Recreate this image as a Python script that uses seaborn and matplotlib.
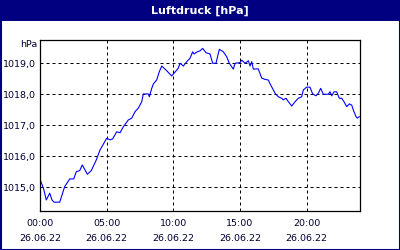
import matplotlib
matplotlib.use("Agg")
import matplotlib.pyplot as plt
from matplotlib.patches import Rectangle
from matplotlib.ticker import FixedLocator, MultipleLocator, FuncFormatter
import seaborn as sns
import pandas as pd

title = "Luftdruck [hPa]"
unit = "hPa"
date_label = "26.06.22"

hours = [0.00, 0.28, 0.47, 0.73, 0.90, 1.05, 1.48, 1.85, 2.23, 2.53, 2.72, 2.98, 3.17, 3.55,
         3.85, 4.22, 4.50, 5.00, 5.25, 5.45, 5.75, 6.00, 6.25, 6.62, 6.88, 7.13, 7.37, 7.63,
         7.75, 8.12, 8.20, 8.38, 8.50, 8.75, 8.95, 9.13, 9.50, 9.88, 10.37, 10.50, 10.75,
         11.00, 11.25, 11.45, 11.55, 11.80, 12.00, 12.20, 12.45, 12.75, 12.95, 13.20, 13.45,
         13.75, 14.00, 14.20, 14.50, 14.63, 15.00, 15.13, 15.38, 15.63, 15.75, 15.88, 16.00,
         16.37, 16.63, 16.88, 17.12, 17.30, 17.50, 17.63, 17.87, 18.13, 18.25, 18.45, 18.63,
         18.88, 19.13, 19.37, 19.63, 19.75, 20.00, 20.25, 20.45, 20.70, 20.87, 21.05, 21.25,
         21.62, 21.75, 21.88, 22.05, 22.25, 22.45, 22.63, 22.80, 23.00, 23.20, 23.38, 23.50,
         23.70, 23.80, 23.95]
pressure = [1015.26, 1014.94, 1014.59, 1014.81, 1014.59, 1014.52, 1014.52, 1015.02, 1015.27,
            1015.27, 1015.50, 1015.54, 1015.72, 1015.42, 1015.54, 1015.88, 1016.20, 1016.58,
            1016.53, 1016.56, 1016.79, 1016.76, 1016.95, 1017.17, 1017.23, 1017.44, 1017.55,
            1017.76, 1018.01, 1018.01, 1017.92, 1018.19, 1018.33, 1018.46, 1018.73, 1018.91,
            1018.76, 1018.59, 1018.84, 1019.00, 1018.91, 1019.05, 1019.16, 1019.37, 1019.30,
            1019.37, 1019.40, 1019.48, 1019.34, 1019.30, 1019.00, 1019.00, 1019.45, 1019.37,
            1019.21, 1019.00, 1018.81, 1019.00, 1019.02, 1019.10, 1019.00, 1019.08, 1018.91,
            1019.05, 1018.81, 1018.82, 1018.52, 1018.48, 1018.46, 1018.30, 1018.14, 1018.03,
            1017.92, 1017.87, 1017.82, 1017.87, 1017.76, 1017.62, 1017.76, 1017.87, 1017.92,
            1018.14, 1018.23, 1018.23, 1018.01, 1017.95, 1018.03, 1018.19, 1018.00, 1018.00,
            1018.08, 1017.95, 1018.08, 1018.08, 1017.87, 1017.87, 1017.76, 1017.60, 1017.69,
            1017.65, 1017.49, 1017.28, 1017.23, 1017.28]

x_major = [0, 5, 10, 15, 20]
y_major = [1015, 1016, 1017, 1018, 1019]

navy = "#000080"
txt = "#000033"

sns.set_style("white")
plt.rcParams["font.family"] = ["DejaVu Sans"]

fig = plt.figure(figsize=(4, 2.5), dpi=100)
fig.patch.set_facecolor("white")

# title bar and border
fig.patches.append(Rectangle((0, 1 - 21 / 250), 1, 21 / 250, transform=fig.transFigure,
                             facecolor=navy, edgecolor="none", zorder=0))
fig.patches.append(Rectangle((0.5 / 400, 0.5 / 250), 399 / 400, 249 / 250,
                             transform=fig.transFigure, facecolor="none",
                             edgecolor=navy, linewidth=1.5, zorder=0))
fig.text(0.5, 1 - 10.5 / 250, title, color="white", fontsize=8, fontweight="bold",
         ha="center", va="center")

ax = fig.add_axes([40 / 400, 39 / 250, 320 / 400, 171 / 250])
df = pd.DataFrame({"h": hours, "p": pressure})
sns.lineplot(data=df, x="h", y="p", ax=ax, color="#0000ff", linewidth=0.8, legend=False)

ax.set_xlim(0, 24)
ax.set_ylim(1014.235, 1019.75)
ax.set_xlabel("")
ax.set_ylabel("")

ax.xaxis.set_major_locator(FixedLocator(x_major))
ax.xaxis.set_minor_locator(MultipleLocator(1))
ax.xaxis.set_major_formatter(FuncFormatter(lambda v, p: f"{int(v):02d}:00\n{date_label}"))
ax.yaxis.set_major_locator(FixedLocator(y_major))
ax.yaxis.set_major_formatter(FuncFormatter(lambda v, p: f"{v:.1f}".replace(".", ",")))

ax.tick_params(axis="x", which="both", direction="in", length=3, width=0.7, colors="black",
               labelcolor=txt, labelsize=6.8, pad=6, top=False)
ax.tick_params(axis="y", which="both", length=0, labelcolor=txt, labelsize=6.8, pad=3)
for lab in ax.get_xticklabels():
    lab.set_linespacing(1.85)

ax.grid(True, which="major", color="black", linestyle=(0, (3, 3)), linewidth=0.72)
for s in ax.spines.values():
    s.set_visible(True)
    s.set_color("black")
    s.set_linewidth(0.9)

fig.text(37 / 400, 1 - 45 / 250, unit, color=txt, fontsize=6.8, ha="right", va="center")

fig.savefig("out.png", dpi=100, facecolor="white")
